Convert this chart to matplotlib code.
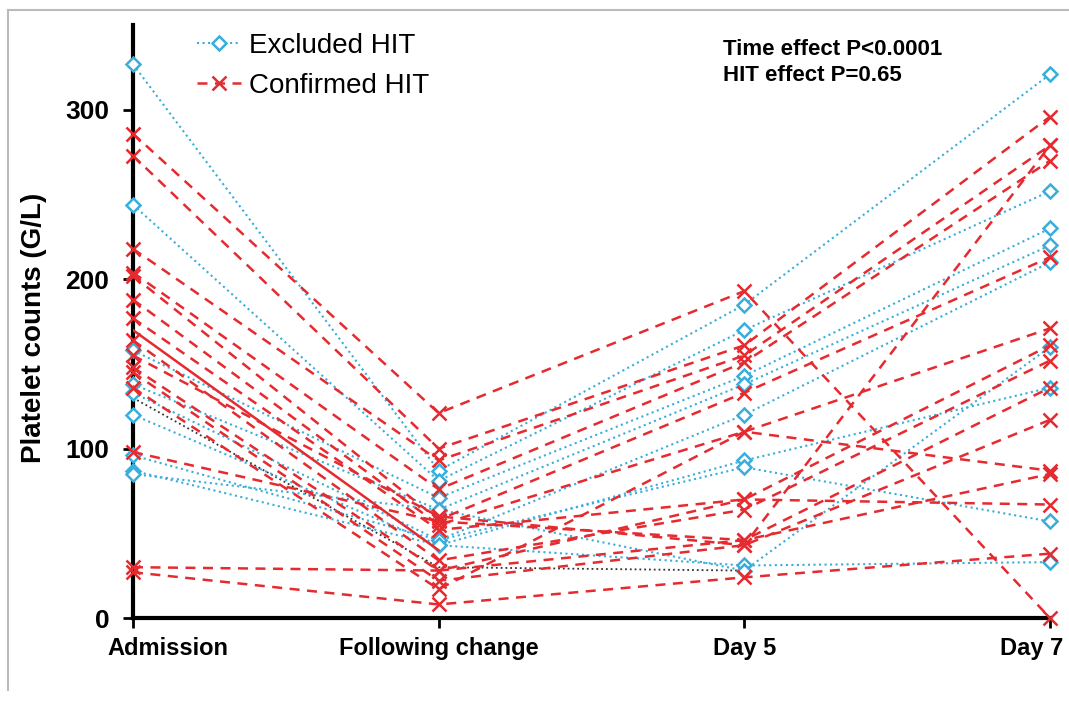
import matplotlib.pyplot as plt
from matplotlib.lines import Line2D
from matplotlib.transforms import ScaledTranslation

plt.rcParams['font.family'] = ['Liberation Sans', 'DejaVu Sans']

timepoints = ['Admission', 'Following change', 'Day 5', 'Day 7']

# Excluded HIT patients: platelet counts (G/L) at each time point
excluded = [
    [327, 87, 185, 321],
    [244, 81, 170, 252],
    [158, 71, 143, 230],
    [138, 64, 138, 220],
    [133, 46, 120, 210],
    [120, 43, 93, 136],
    [96, 46, 89, 57],
    [87, 43, 31, 33],
    [85, 64, 28, 160],
]

# Confirmed HIT patients
confirmed = [
    [286, 121, 193, 0],
    [273, 100, 161, 296],
    [218, 93, 155, 279],
    [204, 76, 151, 270],
    [202, 58, 133, 213],
    [188, 55, 110, 171],
    [177, 52, 70, 161],
    [164, 34, 64, 152],
    [148, 28, 46, 136],
    [145, 22, 43, 117],
    [136, 17, 110, 87],
    [98, 57, 46, 85],
    [30, 28, 70, 67],
    [27, 8, 24, 38],
    [155, 60, 43, 279],
]

# solid red / black dotted lines seen over the first segments
solid_red = [170, 40]
black_dotted = [130, 30, 28]

blue = '#39AEDB'
red = '#E52A30'

fig = plt.figure(figsize=(10.69, 7.01), dpi=100)
ax = fig.add_axes([0.1244, 0.1184, 0.8578, 0.8456])

x = list(range(len(timepoints)))

for row in excluded:
    ax.plot(x, row, linestyle=':', color=blue, linewidth=1.5, marker='D',
            markersize=7, markerfacecolor='white', markeredgecolor=blue,
            markeredgewidth=1.8, clip_on=False, zorder=3)

for row in confirmed:
    ax.plot(x, row, linestyle=(0, (4, 3)), color=red, linewidth=1.8, marker='x',
            markersize=10, markeredgewidth=1.8, clip_on=False, zorder=4)

ax.plot(x[:2], solid_red, color=red, linewidth=1.8, zorder=4)
ax.plot(x[:3], black_dotted, color='#333333', linestyle=':', linewidth=1.3, zorder=2)

ax.set_xlim(0, 3)
ax.set_ylim(0, 350)
ax.set_xticks(x)
ax.set_xticklabels(timepoints, fontsize=17, fontweight='bold')
ax.set_yticks([0, 100, 200, 300])
ax.set_yticklabels(['0', '100', '200', '300'], fontsize=19, fontweight='bold')
ax.set_ylabel('Platelet counts (G/L)', fontsize=20, fontweight='bold')
ax.yaxis.set_label_coords(-0.094, 0.49)

for s in ['top', 'right']:
    ax.spines[s].set_visible(False)
for s in ['left', 'bottom']:
    ax.spines[s].set_linewidth(3)
ax.tick_params(axis='both', direction='out', length=7, width=2)
ax.tick_params(axis='y', pad=10)
ax.tick_params(axis='x', pad=7)

# first and last category labels are pulled inward, as in the original
labels = ax.get_xticklabels()
labels[0].set_transform(labels[0].get_transform() + ScaledTranslation(0.35, 0, fig.dpi_scale_trans))
labels[-1].set_transform(labels[-1].get_transform() + ScaledTranslation(-0.18, 0, fig.dpi_scale_trans))

handles = [
    Line2D([], [], linestyle=':', color=blue, linewidth=1.5, marker='D', markersize=7,
           markerfacecolor='white', markeredgecolor=blue, markeredgewidth=1.8),
    Line2D([], [], linestyle=(0, (4, 3)), color=red, linewidth=1.8, marker='x',
           markersize=10, markeredgewidth=1.8),
]
ax.legend(handles, ['Excluded HIT', 'Confirmed HIT'], loc='upper left',
          bbox_to_anchor=(0.184, 0.953), bbox_transform=fig.transFigure,
          frameon=False, fontsize=20, handlelength=1.6, handletextpad=0.3,
          labelspacing=0.5, borderpad=0, borderaxespad=0)

fig.text(0.676, 0.929, 'Time effect P<0.0001', fontsize=16, fontweight='bold', va='center')
fig.text(0.676, 0.893, 'HIT effect P=0.65', fontsize=16, fontweight='bold', va='center')

# light grey frame around the figure
fig.add_artist(Line2D([0.0075, 0.0075], [0.015, 0.986], color='#BBBBBB', linewidth=1.5,
                      transform=fig.transFigure))
fig.add_artist(Line2D([0.0075, 1.0], [0.986, 0.986], color='#BBBBBB', linewidth=1.5,
                      transform=fig.transFigure))

fig.savefig('out.png', dpi=100)
